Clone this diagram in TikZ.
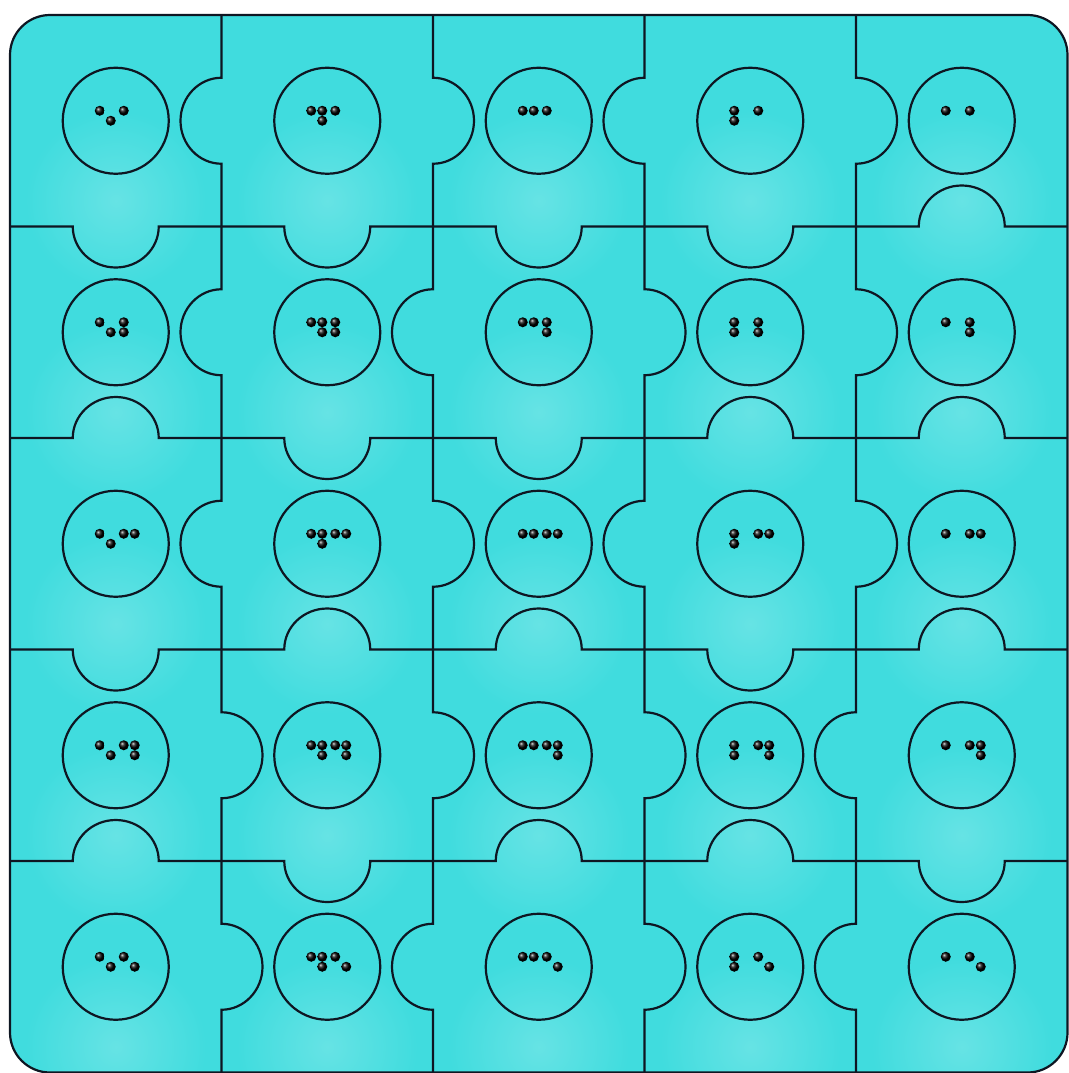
\documentclass[tikz,border=0pt]{standalone}
\usetikzlibrary{positioning}

\definecolor{puzzle}{RGB}{64,220,222}
\definecolor{edge}{RGB}{14,22,34}

% braille letters a--e, dot column/row in the cell
\def\brA{0/0}
\def\brB{0/0,0/1}
\def\brC{0/0,1/0}
\def\brD{0/0,1/0,1/1}
\def\brE{0/0,1/1}

\begin{document}
\begin{tikzpicture}[x=1pt,y=-1pt,
  board/.style={draw=edge,line width=2.2pt,rounded corners=40pt},
  glow/.style={inner color=puzzle!80!white,outer color=puzzle},
  cut/.style={draw=edge,line width=2.2pt},
  disc/.style={circle,draw=edge,line width=2.2pt,minimum size=106pt,inner sep=0pt},
  pip/.style={ball color=black}]
  \useasboundingbox (0,0) rectangle (1068,1073);

  % board with a soft light in each piece
  \begin{scope}
    \clip[rounded corners=40pt] (10,15) rectangle (1067.5,1072.5);
    \fill[puzzle] (10,15) rectangle (1067.5,1072.5);
    \foreach \r in {1,...,5}
      \foreach \c in {1,...,5}
        \shade[glow] ({10+211.5*(\c-0.5)},{15+211.5*(\r-0.5)+80}) circle (90pt);
  \end{scope}
  \path[board] (10,15) rectangle (1067.5,1072.5);

  % horizontal cuts: row above / column / knob (1 down, -1 up)
  \foreach \r/\c/\s in {1/1/1,1/2/1,1/3/1,1/4/1,1/5/-1,
                        2/1/-1,2/2/1,2/3/1,2/4/-1,2/5/-1,
                        3/1/1,3/2/-1,3/3/-1,3/4/1,3/5/-1,
                        4/1/-1,4/2/1,4/3/-1,4/4/-1,4/5/1} {
    \pgfmathsetmacro\xa{10+211.5*(\c-1)}
    \pgfmathsetmacro\xm{\xa+105.75}
    \pgfmathsetmacro\yy{15+211.5*\r}
    \pgfmathsetmacro\yk{\yy+41*\s}
    \pgfmathsetmacro\yc{\yy+22.6*\s}
    \draw[cut] (\xa,\yy) -- (\xm-43,\yy)
      .. controls (\xm-43,\yc) and (\xm-23.7,\yk) .. (\xm,\yk)
      .. controls (\xm+23.7,\yk) and (\xm+43,\yc) .. (\xm+43,\yy)
      -- (\xa+211.5,\yy);
  }

  % vertical cuts: column left / row / knob (1 right, -1 left)
  \foreach \c/\r/\s in {1/1/-1,2/1/1,3/1/-1,4/1/1,
                        1/2/-1,2/2/-1,3/2/1,4/2/1,
                        1/3/-1,2/3/1,3/3/-1,4/3/1,
                        1/4/1,2/4/1,3/4/1,4/4/-1,
                        1/5/1,2/5/-1,3/5/1,4/5/-1} {
    \pgfmathsetmacro\ya{15+211.5*(\r-1)}
    \pgfmathsetmacro\ym{\ya+105.75}
    \pgfmathsetmacro\xx{10+211.5*\c}
    \pgfmathsetmacro\xk{\xx+41*\s}
    \pgfmathsetmacro\xc{\xx+22.6*\s}
    \draw[cut] (\xx,\ya) -- (\xx,\ym-43)
      .. controls (\xc,\ym-43) and (\xk,\ym-23.7) .. (\xk,\ym)
      .. controls (\xk,\ym+23.7) and (\xc,\ym+43) .. (\xx,\ym+43)
      -- (\xx,\ya+211.5);
  }

  % discs with two braille cells each
  \foreach \c/\lf in {1/E,2/D,3/C,4/B,5/A}
    \foreach \r/\rt in {1/A,2/B,3/C,4/D,5/E} {
      \node[disc] (cell-\r-\c) at ({10+211.5*(\c-0.5)},{15+211.5*(\r-0.5)}) {};
      \expandafter\let\expandafter\lst\csname br\lf\endcsname
      \foreach \i/\j in \lst
        \shade[pip] ([shift={({-16+11*\i},{-10+10*\j})}]cell-\r-\c) circle (5pt);
      \expandafter\let\expandafter\lst\csname br\rt\endcsname
      \foreach \i/\j in \lst
        \shade[pip] ([shift={({8+11*\i},{-10+10*\j})}]cell-\r-\c) circle (5pt);
    }
\end{tikzpicture}
\end{document}
